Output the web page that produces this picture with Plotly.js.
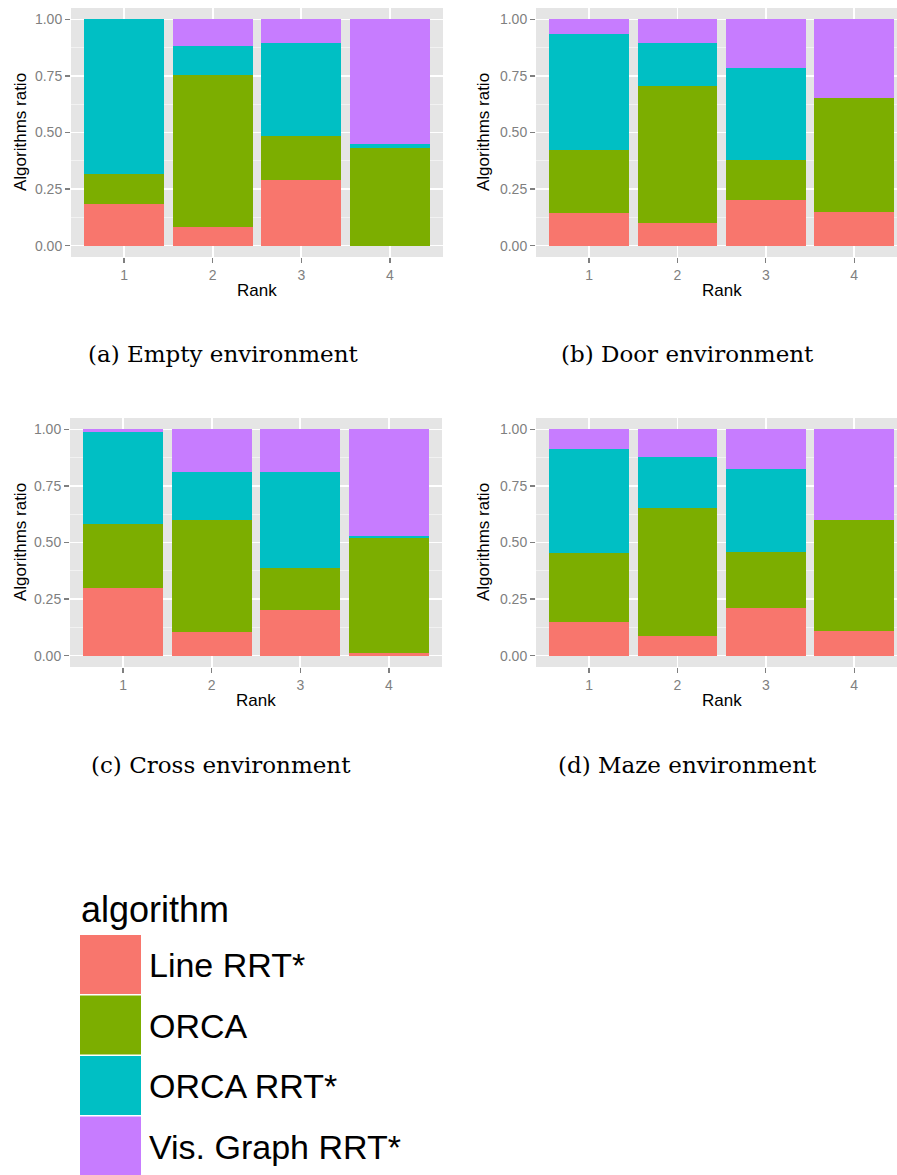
<!DOCTYPE html>
<html>
<head>
<meta charset="utf-8">
<script src="https://cdn.plot.ly/plotly-3.0.1.min.js"></script>
<style>
html,body{margin:0;padding:0;background:#fff;overflow:hidden;}
#chart{width:897px;height:1175px;}
</style>
</head>
<body>
<div id="chart"></div>
<script>
// ---- data ----
const ranks = [1, 2, 3, 4];
const rankLabels = ['1', '2', '3', '4'];
const yTickVals = [0, 0.25, 0.5, 0.75, 1];
const yTickLabels = ['0.00', '0.25', '0.50', '0.75', '1.00'];
const algorithms = ['Line RRT*', 'ORCA', 'ORCA RRT*', 'Vis. Graph RRT*'];
const algColors = ['#F8766D', '#7CAE00', '#00BFC4', '#C77CFF'];
const captions = ['(a) Empty environment', '(b) Door environment', '(c) Cross environment', '(d) Maze environment'];

const emptyLine    = [0.182, 0.083, 0.288, 0.000];
const emptyOrca    = [0.133, 0.669, 0.195, 0.431];
const emptyOrcaRRT = [0.685, 0.128, 0.411, 0.020];
const emptyVis     = [0.000, 0.120, 0.106, 0.549];

const doorLine    = [0.146, 0.102, 0.202, 0.149];
const doorOrca    = [0.278, 0.603, 0.175, 0.502];
const doorOrcaRRT = [0.511, 0.189, 0.410, 0.000];
const doorVis     = [0.065, 0.106, 0.213, 0.349];

const crossLine    = [0.301, 0.106, 0.200, 0.013];
const crossOrca    = [0.281, 0.494, 0.187, 0.507];
const crossOrcaRRT = [0.406, 0.211, 0.424, 0.007];
const crossVis     = [0.012, 0.189, 0.189, 0.473];

const mazeLine    = [0.148, 0.089, 0.210, 0.107];
const mazeOrca    = [0.305, 0.565, 0.249, 0.494];
const mazeOrcaRRT = [0.461, 0.222, 0.366, 0.000];
const mazeVis     = [0.086, 0.124, 0.175, 0.399];

// ---- layout helpers ----
const W = 897, H = 1175;
const px = x => x / W;
const py = y => 1 - y / H;

const panels = [
  {series: [emptyLine, emptyOrca, emptyOrcaRRT, emptyVis], x0: 71,  x1: 443, y0: 8,   y1: 257, xr: [0.4, 4.6]},
  {series: [doorLine, doorOrca, doorOrcaRRT, doorVis],     x0: 536, x1: 897, y0: 8,   y1: 257, xr: [0.4, 4.484]},
  {series: [crossLine, crossOrca, crossOrcaRRT, crossVis], x0: 70,  x1: 442, y0: 418, y1: 667, xr: [0.4, 4.6]},
  {series: [mazeLine, mazeOrca, mazeOrcaRRT, mazeVis],     x0: 536, x1: 897, y0: 418, y1: 667, xr: [0.4, 4.484]}
];
const captionPos = [[223, 354], [687, 354], [221, 765], [687, 765]];
const yTitlePos = [[20, 132], [483, 132], [20, 542], [483, 542]];
const xTitlePos = [[257, 290], [722, 290], [256, 700], [722, 700]];

const traces = [];
const layout = {
  width: W, height: H,
  margin: {l: 0, r: 0, t: 0, b: 0},
  paper_bgcolor: '#ffffff',
  plot_bgcolor: '#E5E5E5',
  barmode: 'stack',
  bargap: 0.1,
  showlegend: false,
  font: {family: 'Liberation Sans, Arial, sans-serif', color: '#000'},
  annotations: [],
  shapes: []
};

panels.forEach((p, i) => {
  const n = i === 0 ? '' : String(i + 1);
  p.series.forEach((vals, k) => {
    traces.push({
      type: 'bar', x: ranks, y: vals, name: algorithms[k],
      marker: {color: algColors[k], line: {width: 0}},
      xaxis: 'x' + n, yaxis: 'y' + n, hoverinfo: 'skip'
    });
  });
  layout['xaxis' + n] = {
    domain: [px(p.x0), px(p.x1)], anchor: 'y' + n,
    range: p.xr, tickvals: ranks, ticktext: rankLabels,
    showgrid: true, gridcolor: '#ffffff', gridwidth: 1.6,
    zeroline: false, showline: false,
    ticks: 'outside', ticklen: 5, tickwidth: 1.3, tickcolor: '#7F7F7F',
    tickfont: {size: 14, color: '#7F7F7F'}, fixedrange: true
  };
  layout['yaxis' + n] = {
    domain: [py(p.y1), py(p.y0)], anchor: 'x' + n,
    range: [-0.05, 1.05], tickvals: yTickVals, ticktext: yTickLabels,
    showgrid: true, gridcolor: '#ffffff', gridwidth: 1.6,
    minor: {tickvals: [0.125, 0.375, 0.625, 0.875], showgrid: true, gridcolor: '#F2F2F2', gridwidth: 1, ticks: ''},
    zeroline: false, showline: false,
    ticks: 'outside', ticklen: 5, tickwidth: 1.3, tickcolor: '#7F7F7F',
    tickfont: {size: 14, color: '#7F7F7F'}, fixedrange: true
  };
  layout.annotations.push({
    text: 'Algorithms ratio', textangle: -90, showarrow: false,
    xref: 'paper', yref: 'paper', x: px(yTitlePos[i][0]), y: py(yTitlePos[i][1]),
    xanchor: 'center', yanchor: 'middle', font: {size: 17, color: '#000'}
  });
  layout.annotations.push({
    text: 'Rank', showarrow: false,
    xref: 'paper', yref: 'paper', x: px(xTitlePos[i][0]), y: py(xTitlePos[i][1]),
    xanchor: 'center', yanchor: 'middle', font: {size: 17, color: '#000'}
  });
  layout.annotations.push({
    text: captions[i], showarrow: false,
    xref: 'paper', yref: 'paper', x: px(captionPos[i][0]), y: py(captionPos[i][1]),
    xanchor: 'center', yanchor: 'middle',
    font: {family: 'DejaVu Serif, serif', size: 23, color: '#000'}
  });
});

// ---- legend (drawn from the algorithm names/colours) ----
layout.annotations.push({
  text: 'algorithm', showarrow: false, xref: 'paper', yref: 'paper',
  x: px(79), y: py(909), xanchor: 'left', yanchor: 'middle',
  font: {size: 36, color: '#000'}
});
algorithms.forEach((name, k) => {
  const top = 935 + k * 60.5;
  layout.shapes.push({
    type: 'rect', xref: 'paper', yref: 'paper',
    x0: px(80), x1: px(141), y0: py(top + 59), y1: py(top),
    fillcolor: algColors[k], line: {width: 0}
  });
  layout.annotations.push({
    text: name, showarrow: false, xref: 'paper', yref: 'paper',
    x: px(147), y: py(top + 30), xanchor: 'left', yanchor: 'middle',
    font: {size: 34, color: '#000'}
  });
});

Plotly.newPlot('chart', traces, layout, {displayModeBar: false, staticPlot: true});
</script>
</body>
</html>
